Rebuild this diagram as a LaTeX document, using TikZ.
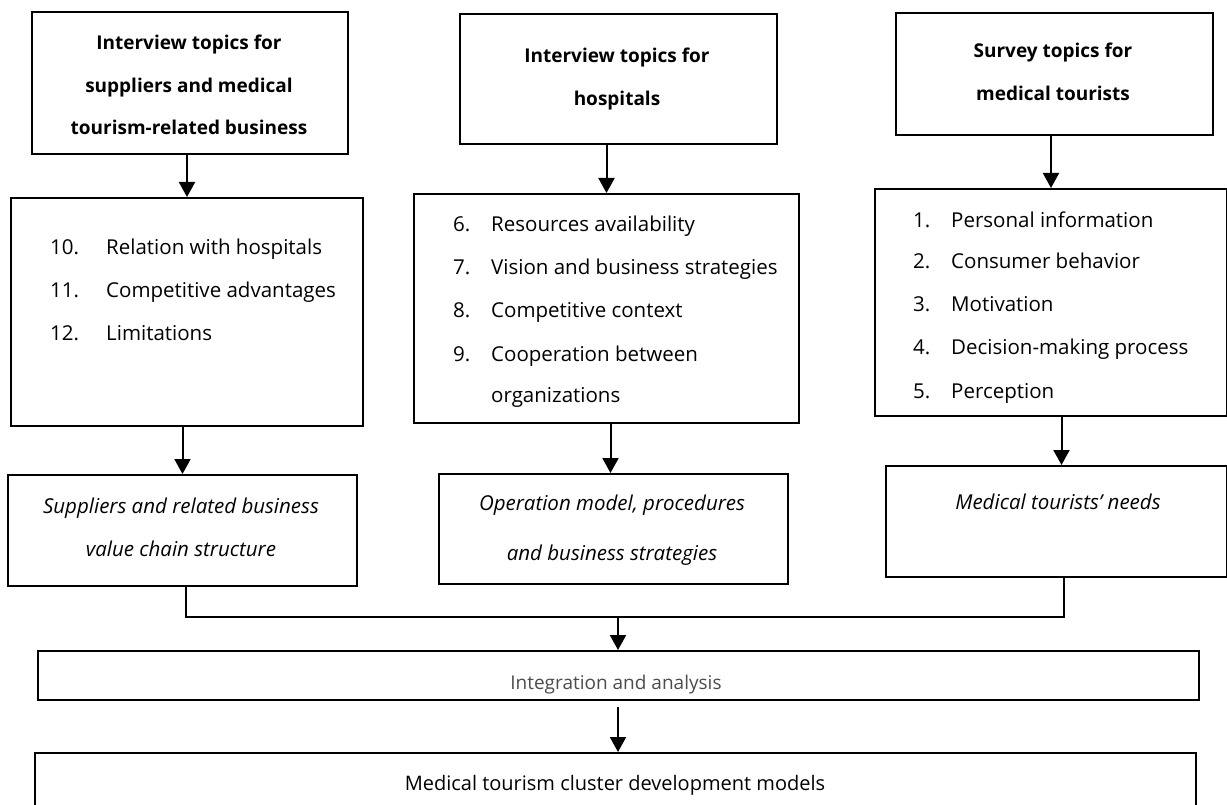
\documentclass[tikz,border=0pt]{standalone}
\usepackage{fontspec}
\setmainfont{Open Sans}
\usetikzlibrary{arrows.meta}
\begin{document}
\begin{tikzpicture}[x=1pt,y=-1pt,
  frame/.style={draw, line width=2pt, inner sep=0pt, anchor=north west},
  head/.style={inner sep=0pt, anchor=base, font=\fontsize{19}{23}\selectfont\bfseries},
  item/.style={inner sep=0pt, anchor=base west, font=\fontsize{20.5}{24}\selectfont},
  result/.style={inner sep=0pt, anchor=base, font=\fontsize{20.5}{24}\selectfont\itshape},
  link/.style={line width=2pt},
  arr/.style={line width=2pt, -{Triangle[width=16pt,length=15pt]}}
]
\useasboundingbox (0,0) rectangle (1227,805);
\fill[white] (0,0) rectangle (1227,805);

% topic boxes
\node[frame, minimum width=316pt, minimum height=142pt] (t1) at (31,11) {};
\node[frame, minimum width=317pt, minimum height=130pt] (t2) at (459,13) {};
\node[frame, minimum width=317pt, minimum height=122pt] (t3) at (895,12) {};

\node[head] (t1a) at (189,50) {Interview topics for};
\node[head] (t1b) at (189,93) {suppliers and medical};
\node[head] (t1c) at (189,135) {tourism-related business};
\node[head] (t2a) at (617,63) {Interview topics for};
\node[head] (t2b) at (617,106) {hospitals};
\node[head] (t3a) at (1053,58) {Survey topics for};
\node[head] (t3b) at (1053,101) {medical tourists};

% item lists
\node[frame, minimum width=352pt, minimum height=228pt] (l1) at (10,197) {};
\node[frame, minimum width=385pt, minimum height=229pt] (l2) at (413,193) {};
\node[frame, minimum width=352pt, minimum height=227pt] (l3) at (874,188) {};

\node[item] (n10) at (50,255) {10.};
\node[item] (i10) at (106,255) {Relation with hospitals};
\node[item] (n11) at (50,298) {11.};
\node[item] (i11) at (106,298) {Competitive advantages};
\node[item] (n12) at (50,341) {12.};
\node[item] (i12) at (106,341) {Limitations};

\node[item] (n6) at (453,232) {6.};
\node[item] (i6) at (491,232) {Resources availability};
\node[item] (n7) at (453,275) {7.};
\node[item] (i7) at (491,275) {Vision and business strategies};
\node[item] (n8) at (453,317) {8.};
\node[item] (i8) at (491,317) {Competitive context};
\node[item] (n9) at (453,361) {9.};
\node[item] (i9) at (491,361) {Cooperation between};
\node[item] (i9b) at (491,402) {organizations};

\node[item] (n1) at (913,228) {1.};
\node[item] (i1) at (951,228) {Personal information};
\node[item] (n2) at (913,269) {2.};
\node[item] (i2) at (951,269) {Consumer behavior};
\node[item] (n3) at (913,312) {3.};
\node[item] (i3) at (951,312) {Motivation};
\node[item] (n4) at (913,354) {4.};
\node[item] (i4) at (951,354) {Decision-making process};
\node[item] (n5) at (913,398) {5.};
\node[item] (i5) at (951,398) {Perception};

% outcome boxes
\node[frame, minimum width=349pt, minimum height=111pt] (r1) at (7,474) {};
\node[frame, minimum width=349pt, minimum height=110pt] (r2) at (438,473) {};
\node[frame, minimum width=341pt, minimum height=111pt] (r3) at (885,465) {};

\node[result] (r1a) at (181,513) {Suppliers and related business};
\node[result] (r1b) at (181,556) {value chain structure};
\node[result] (r2a) at (612,510) {Operation model, procedures};
\node[result] (r2b) at (612,560) {and business strategies};
\node[result] (r3a) at (1058,509) {Medical tourists’ needs};

% synthesis
\node[frame, minimum width=1161pt, minimum height=49pt] (integ) at (37,650) {};
\node[inner sep=0pt, anchor=base, text=black!70, font=\fontsize{19}{22}\selectfont] (integt) at (616,689) {Integration and analysis};
\node[frame, line width=1.5pt, minimum width=1161pt, minimum height=63pt] (model) at (34,752) {};
\node[inner sep=0pt, anchor=base, font=\fontsize{20}{23}\selectfont] (modelt) at (615,790) {Medical tourism cluster development models};

% connectors
\draw[arr] (t1.south -| l1.north) -- (l1.north);
\draw[arr] (t2.south -| l2.north) -- (l2.north);
\draw[arr] (t3.south -| l3.north) -- (l3.north);
\draw[arr] (l1.south -| r1.north) -- (r1.north);
\draw[arr] ([xshift=-3pt]l2.south -| r2.north) -- ([xshift=-3pt]r2.north);
\draw[arr] ([xshift=5pt]l3.south -| r3.north) -- ([xshift=5pt]r3.north);

\coordinate (jl) at (186,617);
\coordinate (jr) at (1064,617);
\coordinate (bus) at (618,617);
\draw[link] (r1.south -| jl) -- (jl) -- (jr) -- (r3.south -| jr);
\draw[arr] (bus) -- (integ.north -| bus);
\draw[arr, shorten <=6pt] (integ.south -| bus) -- (model.north -| bus);
\end{tikzpicture}
\end{document}
